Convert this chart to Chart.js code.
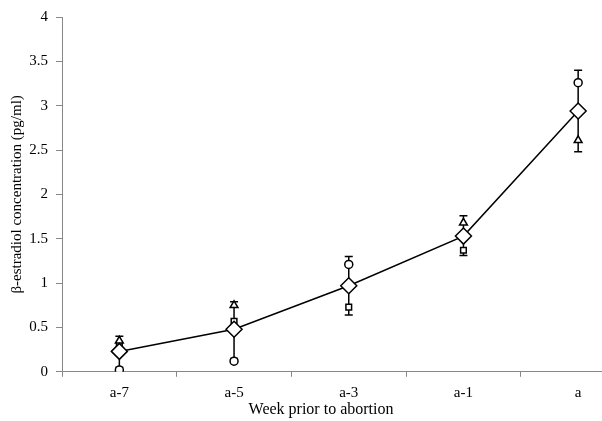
<!DOCTYPE html>
<html>
<head>
<meta charset="utf-8">
<script src="https://cdn.jsdelivr.net/npm/chart.js@4/dist/chart.umd.min.js"></script>
<style>
html,body{margin:0;padding:0;background:#fff;overflow:hidden;}
#wrap{width:645px;height:421px;position:relative;}
</style>
</head>
<body>
<div id="wrap"><canvas id="c"></canvas></div>
<script>
const categories = ['a-7', 'a-5', 'a-3', 'a-1', 'a'];
const meanValues = [0.23, 0.48, 0.97, 1.53, 2.94];
const circleValues = [0.02, 0.12, 1.21, 1.53, 3.26];
const triangleValues = [0.35, 0.75, 0.97, 1.68, 2.61];
const squareValues = [0.30, 0.57, 0.73, 1.37, 2.95];
const errorHigh = [0.40, 0.79, 1.30, 1.76, 3.40];
const errorLow = [0.05, 0.15, 0.64, 1.31, 2.48];
const yTicks = [0, 0.5, 1, 1.5, 2, 2.5, 3, 3.5, 4];

const errorBarPlugin = {
  id: 'errorBars',
  beforeDatasetsDraw(chart) {
    const ctx = chart.ctx;
    const xs = chart.scales.x, ys = chart.scales.y;
    ctx.save();
    ctx.strokeStyle = '#000';
    ctx.lineWidth = 1.5;
    categories.forEach((c, i) => {
      const x = xs.getPixelForValue(i);
      const lo = Math.min(errorLow[i], circleValues[i], triangleValues[i], squareValues[i]);
      const hi = Math.max(errorHigh[i], circleValues[i], triangleValues[i], squareValues[i]);
      const yHi = ys.getPixelForValue(errorHigh[i]);
      const yLo = ys.getPixelForValue(errorLow[i]);
      ctx.beginPath();
      ctx.moveTo(x, ys.getPixelForValue(lo));
      ctx.lineTo(x, ys.getPixelForValue(hi));
      ctx.moveTo(x - 4, yHi); ctx.lineTo(x + 4, yHi);
      ctx.moveTo(x - 4, yLo); ctx.lineTo(x + 4, yLo);
      ctx.stroke();
    });
    ctx.restore();
  }
};

const serif = 'Liberation Serif';
const marker = (data, style, r) => ({
  data, showLine: false, pointStyle: style, pointRadius: r, pointHoverRadius: r,
  pointBackgroundColor: '#fff', pointBorderColor: '#000', pointBorderWidth: 1.5
});

new Chart(document.getElementById('c'), {
  type: 'line',
  data: {
    labels: categories,
    datasets: [
      Object.assign(marker(meanValues, 'rectRot', 8), {showLine: true, borderColor: '#000', borderWidth: 1.5, tension: 0, order: 0}),
      Object.assign(marker(circleValues, 'circle', 4), {order: 1}),
      Object.assign(marker(triangleValues, 'triangle', 4.5), {order: 1}),
      Object.assign(marker(squareValues, 'rect', 4), {order: 1})
    ]
  },
  options: {
    responsive: true,
    maintainAspectRatio: false,
    animation: false,
    layout: {padding: {top: 15, right: 3, left: 0, bottom: 2}},
    plugins: {
      legend: {display: false},
      tooltip: {enabled: false},
      title: {display: true, position: 'bottom', text: 'Week prior to abortion', color: '#000',
        font: {family: serif, size: 16, weight: 'normal'}, padding: {top: 0, bottom: 0}}
    },
    scales: {
      x: {
        offset: true,
        grid: {display: true, offset: true, drawOnChartArea: false, drawTicks: true, tickLength: 5, color: '#888'},
        border: {display: true, color: '#888', width: 1},
        ticks: {color: '#000', font: {family: serif, size: 15}, padding: 7, maxRotation: 0},
        afterFit(s) { s.height = 28; }
      },
      y: {
        min: 0, max: 4,
        afterBuildTicks(s) { s.ticks = yTicks.map(v => ({value: v})); },
        grid: {display: true, drawOnChartArea: false, drawTicks: true, tickLength: 6, color: '#888'},
        border: {display: true, color: '#888', width: 1},
        ticks: {color: '#000', font: {family: serif, size: 15}, padding: 8, callback: v => String(v)},
        title: {display: true, text: 'β-estradiol concentration (pg/ml)', color: '#000',
          font: {family: serif, size: 15}, padding: {top: 8, bottom: 0}},
        afterFit(s) { s.width = 62; }
      }
    }
  },
  plugins: [errorBarPlugin]
});
</script>
</body>
</html>
